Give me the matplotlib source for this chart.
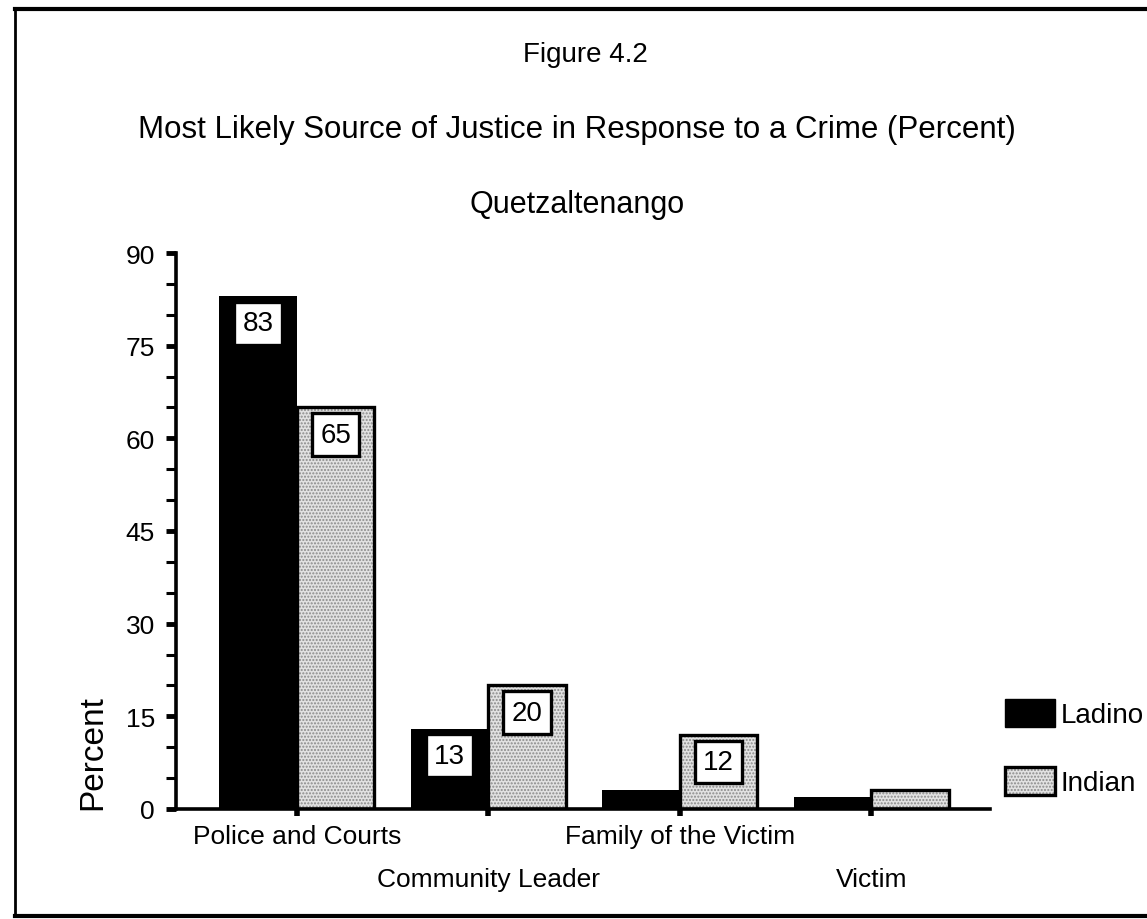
import matplotlib
matplotlib.use("Agg")
import matplotlib.pyplot as plt
from matplotlib.patches import Patch
from matplotlib.lines import Line2D
from matplotlib.legend_handler import HandlerTuple
import numpy as np

# data
categories = ["Police and Courts", "Community Leader", "Family of the Victim", "Victim"]
ladino = [83, 13, 3, 2]
indian = [65, 20, 12, 3]
series_names = ["Ladino", "Indian"]

plt.rcParams['font.family'] = ['Liberation Sans', 'DejaVu Sans']
plt.rcParams['hatch.linewidth'] = 1.0

fig = plt.figure(figsize=(11.47, 9.2), dpi=100)
ax = fig.add_axes([0.1534, 0.1196, 0.8631 - 0.1534, 0.7239 - 0.1196])

x = np.arange(len(categories))
w = 0.405
stip_face = '#e2e2e2'
stip_dots = '#8a8a8a'

ax.bar(x - w / 2, ladino, w, color='black', edgecolor='black', linewidth=0)
# stipple fill, then black outline on top
ax.bar(x + w / 2, indian, w, color=stip_face, edgecolor=stip_dots, hatch='.....', linewidth=0)
ax.bar(x + w / 2, indian, w, fill=False, edgecolor='black', linewidth=2.4)

# value boxes
for xs, vals in [(x - w / 2, ladino), (x + w / 2, indian)]:
    for xi, v in zip(xs, vals):
        if v >= 10:
            ax.annotate(str(v), (xi, v), xytext=(0, -19.5), textcoords='offset points',
                        ha='center', va='center', fontsize=20,
                        bbox=dict(boxstyle='square,pad=0.3', facecolor='white',
                                  edgecolor='black', linewidth=2.4))

ax.set_ylim(0, 90)
ax.set_xlim(-0.632, 3.62)
ax.set_yticks(np.arange(0, 91, 15))
ax.set_yticks(np.arange(0, 91, 5), minor=True)
ax.tick_params(axis='y', which='major', direction='out', length=7, width=3.5,
               labelsize=19, pad=8)
ax.tick_params(axis='y', which='minor', direction='out', length=7, width=2.2)
ax.set_xticks(x)
ax.set_xticklabels([])
ax.tick_params(axis='x', direction='out', length=5, width=4)

for s in ['top', 'right']:
    ax.spines[s].set_visible(False)
for s in ['left', 'bottom']:
    ax.spines[s].set_linewidth(2.6)

# staggered category labels
rows = [-0.0486, -0.126]
for i, c in enumerate(categories):
    ax.text(x[i], rows[i % 2], c, transform=ax.get_xaxis_transform(),
            ha='center', va='center', fontsize=19)

ax.set_ylabel('Percent', fontsize=24)
ax.yaxis.set_label_coords(-0.0835, 0.1025)

fig.text(0.51, 0.940, 'Figure 4.2', ha='center', va='center', fontsize=20)
fig.text(0.503, 0.859, 'Most Likely Source of Justice in Response to a Crime (Percent)',
         ha='center', va='center', fontsize=22.5)
fig.text(0.503, 0.777, 'Quetzaltenango', ha='center', va='center', fontsize=22)

# legend
h_lad = Patch(facecolor='black', edgecolor='black')
h_ind = (Patch(facecolor=stip_face, edgecolor=stip_dots, hatch='.....', linewidth=0),
         Patch(fill=False, edgecolor='black', linewidth=2.4))
fig.legend([h_lad, h_ind], series_names, loc='upper left',
           bbox_to_anchor=(1005 / 1147, 1 - 700 / 920), frameon=False,
           fontsize=20, handlelength=1.8, handleheight=1.15, handletextpad=0.2,
           labelspacing=1.4, borderpad=0, borderaxespad=0,
           handler_map={tuple: HandlerTuple(ndivide=1)})

# page border
fig.add_artist(Line2D([0.013, 1.0], [0.989, 0.989], color='black', lw=3, transform=fig.transFigure))
fig.add_artist(Line2D([0.013, 1.0], [0.003, 0.003], color='black', lw=3, transform=fig.transFigure))
fig.add_artist(Line2D([0.013, 0.013], [0.003, 0.989], color='black', lw=2, transform=fig.transFigure))

fig.savefig('out.png', dpi=100)
